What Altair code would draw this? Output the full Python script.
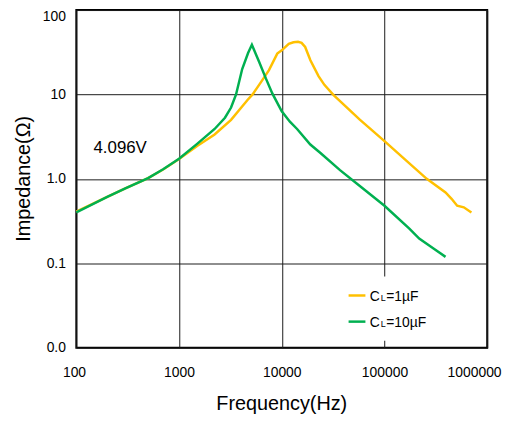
import math
import altair as alt
import pandas as pd

# ---------------- data ----------------
series_names = ["CL=1µF", "CL=10µF"]
series_colors = ["#FFC000", "#00B050"]

freq_1uF = [100, 200, 300, 500, 700, 1000, 1500, 2220, 3210, 4000, 4640, 5200, 6300,
            7510, 9040, 10000, 11700, 13000, 14400, 15600, 16900, 19000, 22800, 26000,
            31800, 57500, 100000, 160000, 258000, 393000, 450000, 510000, 592000, 702000]
z_1uF = [0.41, 0.61, 0.77, 1.02, 1.29, 1.72, 2.45, 3.35, 5.0, 6.9, 8.6, 10.0, 14.1,
         19.4, 30.5, 33.3, 39.9, 41.5, 42.0, 40.8, 36.5, 25.4, 16.5, 13.0,
         9.9, 5.03, 2.8, 1.68, 1.0, 0.69, 0.58, 0.48, 0.46, 0.40]

freq_10uF = [100, 200, 300, 500, 700, 1000, 1500, 2220, 2800, 3210, 3590, 4120, 4700,
             5120, 5600, 6030, 7000, 8090, 10000, 12000, 14100, 18970, 23660, 36900,
             60000, 100000, 174600, 217800, 300000, 393000]
z_10uF = [0.40, 0.61, 0.77, 1.02, 1.30, 1.73, 2.6, 3.9, 5.3, 7.0, 10.0, 20.0, 31.0,
          38.8, 30.0, 24.3, 15.5, 10.3, 6.3, 4.75, 3.9, 2.55, 2.04, 1.27,
          0.79, 0.48, 0.257, 0.196, 0.15, 0.119]

x_ticks = [100, 1000, 10000, 100000, 1000000]
x_tick_labels = ["100", "1000", "10000", "100000", "1000000"]
y_ticks = [0.01, 0.1, 1, 10, 100]
y_tick_labels = ["0.0", "0.1", "1.0", "10", "100"]

annotation_text = ["4.096V"]
annotation_x = [147]
annotation_y = [2.31]

legend_main = ["C", "C"]
legend_sub = ["L", "L"]
legend_rest = ["=1µF", "=10µF"]

# ---------------- build table ----------------
df = pd.concat([
    pd.DataFrame({"f": freq_1uF, "z": z_1uF, "series": series_names[0], "order": range(len(freq_1uF))}),
    pd.DataFrame({"f": freq_10uF, "z": z_10uF, "series": series_names[1], "order": range(len(freq_10uF))}),
], ignore_index=True)


def label_expr(values, labels):
    expr = "''"
    for v, l in reversed(list(zip(values, labels))):
        expr = f"abs(log(datum.value)/LN10 - ({math.log10(v)})) < 0.01 ? '{l}' : {expr}"
    return expr


FONT = "Liberation Sans"

x_scale = alt.Scale(type="log", domain=[x_ticks[0], x_ticks[-1]], nice=False)
y_scale = alt.Scale(type="log", domain=[y_ticks[0], y_ticks[-1]], nice=False)

x_axis = alt.Axis(
    values=x_ticks, labelExpr=label_expr(x_ticks, x_tick_labels),
    title="Frequency(Hz)", labelPadding=18, labelFlush=True, labelFlushOffset=14,
    titleX=207, titleY=56, titleAlign="center", titleBaseline="middle",
)
y_axis = alt.Axis(
    values=y_ticks, labelExpr=label_expr(y_ticks, y_tick_labels),
    title="Impedance(Ω)", labelPadding=11,
    labelBaseline={"condition": {"test": "datum.value >= 50", "value": "top"}, "value": "middle"},
    titleX=-53, titleY=170, titleAlign="center", titleBaseline="middle",
)

lines = alt.Chart(df).mark_line(strokeWidth=2.5).encode(
    x=alt.X("f:Q", scale=x_scale, axis=x_axis),
    y=alt.Y("z:Q", scale=y_scale, axis=y_axis),
    color=alt.Color("series:N", scale=alt.Scale(domain=series_names, range=series_colors), legend=None),
    order="order:Q",
)

annot = alt.Chart(pd.DataFrame({"x": annotation_x, "y": annotation_y, "t": annotation_text})).mark_text(
    align="left", baseline="middle", font=FONT, fontSize=17, color="black"
).encode(x=alt.X("x:Q", scale=x_scale), y=alt.Y("y:Q", scale=y_scale), text="t:N")

one = pd.DataFrame({"k": [0]})

legend_bg = alt.Chart(one).mark_rect(color="white").encode(
    x=alt.value(268), x2=alt.value(368), y=alt.value(269), y2=alt.value(334)
)

legend_layers = [legend_bg]
row_line_y = [288.3, 314.7]
row_text_y = [293.5, 320.0]
for i in range(len(series_names)):
    legend_layers.append(
        alt.Chart(one).mark_rule(color=series_colors[i], strokeWidth=2.5).encode(
            x=alt.value(275), x2=alt.value(292), y=alt.value(row_line_y[i])
        )
    )
    legend_layers.append(
        alt.Chart(one).mark_text(align="left", baseline="alphabetic", font=FONT, fontSize=14,
                                 color="black", text=legend_main[i]).encode(
            x=alt.value(296.5), y=alt.value(row_text_y[i])
        )
    )
    legend_layers.append(
        alt.Chart(one).mark_text(align="left", baseline="alphabetic", font=FONT, fontSize=9,
                                 color="black", text=legend_sub[i]).encode(
            x=alt.value(307.5), y=alt.value(row_text_y[i])
        )
    )
    legend_layers.append(
        alt.Chart(one).mark_text(align="left", baseline="alphabetic", font=FONT, fontSize=14,
                                 color="black", text=legend_rest[i]).encode(
            x=alt.value(313), y=alt.value(row_text_y[i])
        )
    )

chart = alt.layer(lines, annot, *legend_layers).properties(
    width=415, height=341,
    autosize=alt.AutoSizeParams(type="none"),
    padding={"left": 69, "top": 0, "right": 20, "bottom": 72},
).configure_view(
    stroke="black", strokeWidth=2
).configure_axis(
    grid=True, gridColor="#1a1a1a", gridWidth=1, gridOpacity=1,
    domain=False, ticks=False,
    labelFont=FONT, labelFontSize=14, labelColor="black",
    titleFont=FONT, titleFontSize=20, titleFontWeight="normal", titleColor="black",
)

chart.save("out.html", embed_options={"renderer": "svg", "actions": False})
